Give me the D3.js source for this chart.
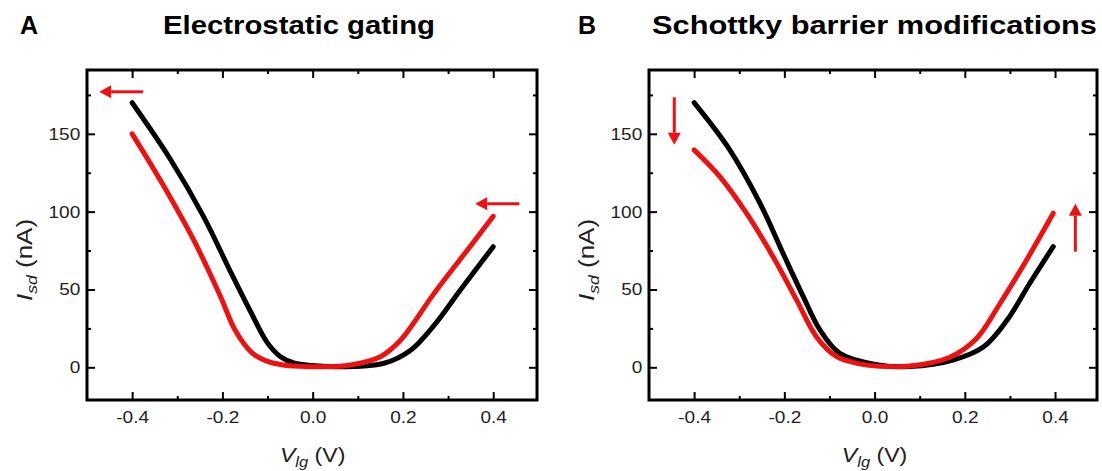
<!DOCTYPE html>
<html>
<head>
<meta charset="utf-8">
<script src="https://cdn.jsdelivr.net/npm/d3@7"></script>
<style>
  body { margin: 0; background: #fff; }
  svg { display: block; }
</style>
</head>
<body>
<div id="chart"></div>
<script>
// gate voltage (V) / source-drain current (nA)
const aBlackV = [-0.40, -0.316, -0.242, -0.183, -0.138, -0.101, -0.072, -0.040, 0.017, 0.047, 0.158, 0.217, 0.269, 0.328, 0.40];
const aBlackI = [170, 134, 97, 62, 36, 16, 7, 2.6, 0.8, 0.4, 2.6, 11, 27, 50, 77.5];
const aRedV = [-0.40, -0.331, -0.264, -0.205, -0.172, -0.135, -0.100, -0.065, -0.027, 0.017, 0.084, 0.150, 0.195, 0.269, 0.343, 0.40];
const aRedI = [150, 117, 82, 46, 24, 9.5, 3.8, 1.5, 0.6, 0.3, 1.5, 6.8, 17.5, 47.5, 75.4, 97];

const bBlackV = [-0.40, -0.321, -0.254, -0.203, -0.158, -0.121, -0.077, 0.012, 0.078, 0.174, 0.241, 0.293, 0.344, 0.396];
const bBlackI = [170, 139.7, 105.4, 73.3, 45.4, 24, 9, 1.4, 0.5, 4.7, 13, 30, 54, 77.5];
const bRedV = [-0.40, -0.343, -0.284, -0.225, -0.173, -0.129, -0.084, -0.033, 0.012, 0.078, 0.167, 0.226, 0.278, 0.337, 0.396];
const bRedI = [139.7, 122.5, 99, 71, 43.3, 19.7, 6.8, 2.2, 0.7, 0.8, 6.5, 18.5, 41, 69, 99];

const majorX = [-0.4, -0.2, 0, 0.2, 0.4];
const minorX = [-0.3, -0.1, 0.1, 0.3];
const majorY = [0, 50, 100, 150];
const minorY = [25, 75, 125, 175];

const letters = ["A", "B"];
const titles = ["Electrostatic gating", "Schottky barrier modifications"];

// arrows as [x1, y1, x2, y2] in data units, head at the second point
const arrowsA = [[-0.376, 177, -0.473, 177], [0.458, 105, 0.36, 105]];
const arrowsB = [[-0.444, 173.5, -0.444, 143], [0.445, 74.3, 0.445, 105]];

const width = 1102, height = 471;
const red = "#ee1111";
const font = "'Liberation Sans', Arial, sans-serif";

const svg = d3.select("#chart").append("svg")
    .attr("width", width)
    .attr("height", height)
    .attr("font-family", font);

const panels = [
  { left: 87, right: 537, xDomain: [-0.5, 0.497], titleX: 299, titleW: 272, letterX: 20,
    black: [aBlackV, aBlackI], red: [aRedV, aRedI], arrows: arrowsA },
  { left: 649, right: 1097, xDomain: [-0.5, 0.493], titleX: 874.5, titleW: 445, letterX: 578,
    black: [bBlackV, bBlackI], red: [bRedV, bRedI], arrows: arrowsB }
];

panels.forEach((p, i) => drawPanel(p, i));

function drawPanel(p, i) {
  const top = 70, bottom = 400;
  const x = d3.scaleLinear().domain(p.xDomain).range([p.left, p.right]);
  const y = d3.scaleLinear().domain([-21, 191]).range([bottom, top]);
  const g = svg.append("g");

  const styleAxis = a => {
    a.select(".domain").remove();
    a.selectAll("line").attr("stroke", "#000").attr("stroke-width", 2);
    a.attr("font-family", font).attr("font-size", 17);
    a.selectAll("text").attr("fill", "#222").attr("transform", "scale(1.12,1)");
  };

  // bottom + left, labelled
  g.append("g").attr("transform", `translate(0,${bottom})`)
    .call(d3.axisBottom(x).tickValues(majorX).tickSizeInner(-8).tickSizeOuter(0)
      .tickPadding(11).tickFormat(d => d.toFixed(1)))
    .call(styleAxis);
  g.append("g").attr("transform", `translate(0,${bottom})`)
    .call(d3.axisBottom(x).tickValues(minorX).tickSizeInner(-4).tickSizeOuter(0).tickFormat(""))
    .call(styleAxis);
  g.append("g").attr("transform", `translate(${p.left},0)`)
    .call(d3.axisLeft(y).tickValues(majorY).tickSizeInner(-8).tickSizeOuter(0).tickPadding(6))
    .call(styleAxis);
  g.append("g").attr("transform", `translate(${p.left},0)`)
    .call(d3.axisLeft(y).tickValues(minorY).tickSizeInner(-4).tickSizeOuter(0).tickFormat(""))
    .call(styleAxis);

  // mirrored ticks on top + right
  g.append("g").attr("transform", `translate(0,${top})`)
    .call(d3.axisTop(x).tickValues(majorX).tickSizeInner(-8).tickSizeOuter(0).tickFormat(""))
    .call(styleAxis);
  g.append("g").attr("transform", `translate(0,${top})`)
    .call(d3.axisTop(x).tickValues(minorX).tickSizeInner(-4).tickSizeOuter(0).tickFormat(""))
    .call(styleAxis);
  g.append("g").attr("transform", `translate(${p.right},0)`)
    .call(d3.axisRight(y).tickValues(majorY).tickSizeInner(-8).tickSizeOuter(0).tickFormat(""))
    .call(styleAxis);
  g.append("g").attr("transform", `translate(${p.right},0)`)
    .call(d3.axisRight(y).tickValues(minorY).tickSizeInner(-4).tickSizeOuter(0).tickFormat(""))
    .call(styleAxis);

  g.append("rect")
    .attr("x", p.left).attr("y", top)
    .attr("width", p.right - p.left).attr("height", bottom - top)
    .attr("fill", "none").attr("stroke", "#000").attr("stroke-width", 3);

  const line = d3.line()
    .x(d => x(d[0]))
    .y(d => y(d[1]))
    .curve(d3.curveCatmullRom.alpha(0.5));

  [[p.black, "#000"], [p.red, red]].forEach(([s, c]) => {
    g.append("path")
      .datum(d3.zip(s[0], s[1]))
      .attr("d", line)
      .attr("fill", "none")
      .attr("stroke", c)
      .attr("stroke-width", 5)
      .attr("stroke-linecap", "round")
      .attr("stroke-linejoin", "round");
  });

  // red arrows
  p.arrows.forEach(a => {
    const x1 = x(a[0]), y1 = y(a[1]), x2 = x(a[2]), y2 = y(a[3]);
    const ang = Math.atan2(y2 - y1, x2 - x1);
    const hl = 12, hw = 6.5;
    const bx = x2 - hl * Math.cos(ang), by = y2 - hl * Math.sin(ang);
    g.append("line")
      .attr("x1", x1).attr("y1", y1).attr("x2", bx).attr("y2", by)
      .attr("stroke", red).attr("stroke-width", 3);
    const px = -Math.sin(ang) * hw, py = Math.cos(ang) * hw;
    g.append("path")
      .attr("d", `M${x2},${y2}L${bx + px},${by + py}L${bx - px},${by - py}Z`)
      .attr("fill", red);
  });

  // panel letter + title
  g.append("text").attr("x", p.letterX).attr("y", 34)
    .attr("font-size", 25).attr("font-weight", "bold").text(letters[i]);
  g.append("text").attr("x", p.titleX).attr("y", 34)
    .attr("text-anchor", "middle")
    .attr("textLength", p.titleW).attr("lengthAdjust", "spacingAndGlyphs")
    .attr("font-size", 25).attr("font-weight", "bold").text(titles[i]);

  // axis titles
  const yl = g.append("text")
    .attr("transform", `translate(${p.left - 55},260) rotate(-90) scale(1.18,1)`)
    .attr("text-anchor", "middle").attr("font-size", 22).attr("fill", "#222");
  yl.append("tspan").attr("font-style", "italic").text("I");
  yl.append("tspan").attr("font-style", "italic").attr("font-size", 15).attr("dy", 5).text("sd");
  yl.append("tspan").attr("dy", -5).text(" (nA)");

  const xl = g.append("text")
    .attr("transform", `translate(${(x(-0.4) + x(0.4)) / 2},462) scale(1.1,1)`)
    .attr("text-anchor", "middle").attr("font-size", 21).attr("fill", "#222");
  xl.append("tspan").attr("font-style", "italic").text("V");
  xl.append("tspan").attr("font-style", "italic").attr("font-size", 15).attr("dy", 5).text("lg");
  xl.append("tspan").attr("dy", -5).text(" (V)");
}
</script>
</body>
</html>
